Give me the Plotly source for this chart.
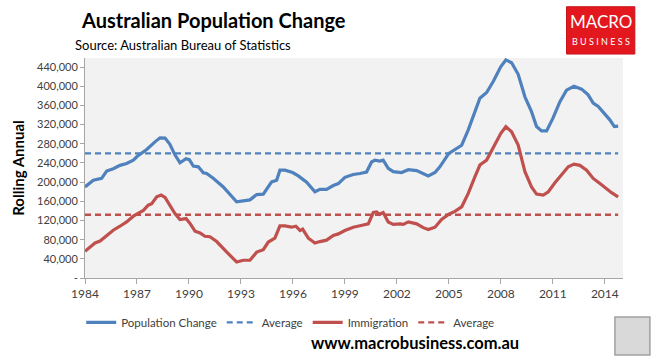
import plotly.graph_objects as go

# ---- data (decimal years, persons) ----
pop_years = [1984.00, 1984.48, 1984.96, 1985.25, 1985.63, 1986.02, 1986.40, 1986.79, 1987.02, 1987.27,
             1987.56, 1988.04, 1988.33, 1988.62, 1988.90, 1989.19, 1989.48, 1989.83, 1990.02, 1990.25,
             1990.54, 1990.83, 1991.02, 1991.40, 1991.98, 1992.75, 1993.00, 1993.52, 1993.91, 1994.29,
             1994.77, 1995.06, 1995.25, 1995.54, 1995.98, 1996.31, 1996.79, 1997.27, 1997.56, 1997.94,
             1998.33, 1998.62, 1999.00, 1999.48, 1999.87, 2000.25, 2000.54, 2000.73, 2001.02, 2001.21,
             2001.50, 2001.79, 2002.27, 2002.66, 2003.14, 2003.52, 2003.81, 2004.20, 2004.48, 2005.00,
             2005.45, 2005.74, 2006.12, 2006.50, 2006.79, 2007.18, 2007.56, 2008.00, 2008.29, 2008.62,
             2009.00, 2009.39, 2009.77, 2010.06, 2010.35, 2010.64, 2011.00, 2011.41, 2011.79, 2012.22,
             2012.66, 2013.04, 2013.33, 2013.62, 2014.00, 2014.29, 2014.55, 2014.77]
pop_change = [190000, 204000, 208000, 223000, 228000, 235000, 239000, 246000, 254000, 260000,
              268000, 284000, 292500, 292000, 279000, 257000, 240500, 249000, 247000, 233500,
              232000, 219500, 218000, 208000, 190000, 159000, 160000, 163000, 174000, 175000,
              200500, 204000, 225000, 225000, 220000, 213000, 200000, 180000, 185000, 185000,
              193000, 197000, 210000, 216000, 218000, 221000, 242000, 246000, 244000, 246000,
              229000, 222000, 220000, 226000, 224000, 217000, 213000, 220000, 232000, 260000,
              270000, 277000, 309000, 347000, 375000, 387000, 410000, 441000, 455000, 449000,
              425000, 378000, 347000, 316000, 307000, 307000, 333000, 368000, 392000, 400000,
              394000, 382000, 365000, 358000, 341500, 330000, 316000, 317000]

imm_years = [1984.00, 1984.29, 1984.58, 1984.87, 1985.25, 1985.63, 1986.02, 1986.40, 1986.79, 1987.08,
             1987.37, 1987.65, 1987.85, 1988.14, 1988.39, 1988.62, 1988.90, 1989.19, 1989.48, 1989.83,
             1990.06, 1990.35, 1990.64, 1990.92, 1991.21, 1991.60, 1992.17, 1992.75, 1993.14, 1993.52,
             1993.91, 1994.29, 1994.58, 1994.96, 1995.25, 1995.54, 1995.92, 1996.17, 1996.41, 1996.56,
             1996.89, 1997.27, 1997.56, 1997.94, 1998.33, 1998.62, 1999.00, 1999.48, 1999.87, 2000.35,
             2000.64, 2000.83, 2000.98, 2001.21, 2001.50, 2001.79, 2002.18, 2002.37, 2002.66, 2003.14,
             2003.52, 2003.81, 2004.20, 2004.58, 2005.00, 2005.35, 2005.74, 2006.12, 2006.50, 2006.79,
             2007.18, 2007.56, 2008.00, 2008.29, 2008.62, 2009.00, 2009.39, 2009.77, 2010.06, 2010.45,
             2010.74, 2011.12, 2011.50, 2011.89, 2012.22, 2012.56, 2012.95, 2013.33, 2013.72, 2014.00,
             2014.39, 2014.77]
immigration = [55800, 65000, 73000, 77000, 89000, 99700, 108000, 117000, 129000, 134600,
               141000, 152000, 155000, 169400, 173000, 168000, 152000, 134600, 122000, 124000,
               114000, 97600, 94000, 87000, 86000, 76000, 54400, 33500, 37000, 37000,
               54000, 59000, 75000, 83000, 108700, 108700, 106000, 108000, 99000, 102000,
               83000, 73000, 76000, 79000, 89000, 92000, 99000, 106000, 109000, 113000,
               136700, 138000, 133000, 136700, 117000, 112000, 113000, 112000, 117000, 113000,
               105000, 101000, 106000, 122000, 133000, 139000, 148500, 176400, 211000, 235600,
               246000, 270500, 301900, 315700, 305000, 277400, 221700, 190000, 175000, 173000,
               180000, 198600, 214700, 232000, 237700, 235000, 225000, 207800, 197000, 189000,
               178000, 169400]

pop_average = [260000, 260000]
imm_average = [132000, 132000]
avg_years = [1984.00, 2014.77]

x_tick_vals = [1984, 1987, 1990, 1993, 1996, 1999, 2002, 2005, 2008, 2011, 2014]
x_tick_text = [str(v) for v in x_tick_vals]
y_tick_vals = [0, 40000, 80000, 120000, 160000, 200000, 240000, 280000, 320000, 360000, 400000, 440000]
y_tick_text = ["-"] + [f"{v:,}" for v in y_tick_vals[1:]]

BLUE = "#4f81bd"
RED = "#c0504d"
FONT = "Lato"

fig = go.Figure()
fig.add_trace(go.Scatter(x=pop_years, y=pop_change, mode="lines", name="Population Change",
                         line=dict(color=BLUE, width=3.2)))
fig.add_trace(go.Scatter(x=avg_years, y=pop_average, mode="lines", name="Average",
                         line=dict(color=BLUE, width=2.4, dash="6px,4px")))
fig.add_trace(go.Scatter(x=imm_years, y=immigration, mode="lines", name="Immigration",
                         line=dict(color=RED, width=3.2)))
fig.add_trace(go.Scatter(x=avg_years, y=imm_average, mode="lines", name="Average ",
                         line=dict(color=RED, width=2.4, dash="6px,4px")))

fig.update_layout(
    width=660, height=362,
    margin=dict(l=85, r=37, t=58, b=84),
    paper_bgcolor="white",
    plot_bgcolor="#f2f2f2",
    font=dict(family=FONT, color="#262626", size=11),
    showlegend=True,
    legend=dict(orientation="h", x=-0.007, xanchor="left", y=-0.136, yanchor="top",
                font=dict(size=11.5, color="#404040"), itemwidth=30,
                bgcolor="rgba(0,0,0,0)"),
    xaxis=dict(range=[1984, 2015.05], tickvals=x_tick_vals, ticktext=x_tick_text,
               showgrid=False, zeroline=False, showline=True, linecolor="#a6a6a6", linewidth=1,
               ticks="outside", ticklen=5, tickcolor="#a6a6a6",
               tickfont=dict(size=12, color="#404040")),
    yaxis=dict(range=[0, 459000], tickvals=y_tick_vals, ticktext=y_tick_text,
               showgrid=False, zeroline=False, showline=True, linecolor="#a6a6a6", linewidth=1,
               ticks="outside", ticklen=4, tickcolor="#a6a6a6",
               tickfont=dict(size=11, color="#404040"),
               title=dict(text="<b>Rolling Annual</b>", font=dict(size=15, color="#000000"), standoff=8)),
)

# Titles
fig.add_annotation(text="<b>Australian Population Change</b>", xref="paper", yref="paper",
                   x=-0.012, y=1.173, xanchor="left", yanchor="middle",
                   showarrow=False, font=dict(size=20, color="#000000", family=FONT))
fig.add_annotation(text="Source: Australian Bureau of Statistics", xref="paper", yref="paper",
                   x=-0.022, y=1.059, xanchor="left", yanchor="middle",
                   showarrow=False, font=dict(size=13, color="#000000", family=FONT))

# Website
fig.add_annotation(text="<b>www.macrobusiness.com.au</b>", xref="paper", yref="paper",
                   x=0.811, y=-0.295, xanchor="right", yanchor="middle",
                   showarrow=False, font=dict(size=16.5, color="#000000", family=FONT))

# Logo top right
fig.add_shape(type="rect", xref="paper", yref="paper", x0=0.895, x1=1.022, y0=1.018, y1=1.233,
              fillcolor="#e3171e", line=dict(color="#c8141a", width=1), layer="above")
fig.add_annotation(text="MACRO", xref="paper", yref="paper", x=0.959, y=1.164,
                   xanchor="center", yanchor="middle", showarrow=False,
                   font=dict(size=17, color="#ffffff", family=FONT))
fig.add_annotation(text="B U S I N E S S", xref="paper", yref="paper", x=0.959, y=1.073,
                   xanchor="center", yanchor="middle", showarrow=False,
                   font=dict(size=9, color="#ffffff", family=FONT))

# Small picture box bottom right
fig.add_shape(type="rect", xref="paper", yref="paper", x0=0.985, x1=1.05, y0=-0.35, y1=-0.177,
              fillcolor="#d9d9d9", line=dict(color="#a0a0a0", width=1.5), layer="above")

fig.write_html("out.html", config={"displayModeBar": False},
               post_script="document.body.style.margin='0';")
